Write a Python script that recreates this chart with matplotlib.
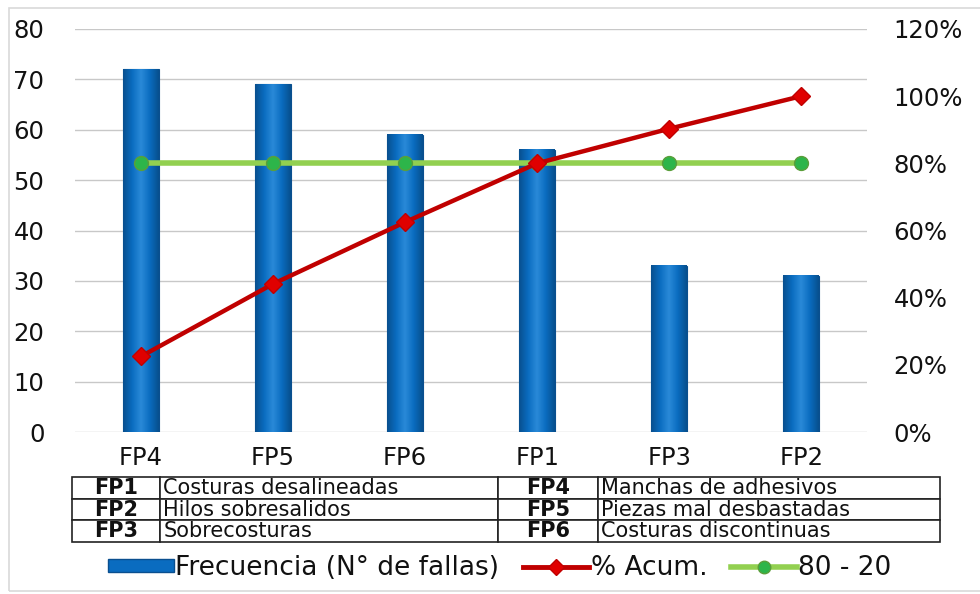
import numpy as np
import matplotlib.pyplot as plt
from matplotlib.patches import Rectangle
from matplotlib.lines import Line2D
from matplotlib.colors import LinearSegmentedColormap

# wider font, closer to the stretched text of the original
plt.rcParams['font.family'] = ['DejaVu Sans']

# ==========================================
# DATA
# ==========================================
categorias = ["FP4", "FP5", "FP6", "FP1", "FP3", "FP2"]
frecuencia = [72, 69, 59, 56, 33, 31]
pct_acum = [22.5, 44.1, 62.5, 80.0, 90.3, 100.0]
linea_80 = [80, 80, 80, 80, 80, 80]

tabla_codigos = [["FP1", "Costuras desalineadas", "FP4", "Manchas de adhesivos"],
                 ["FP2", "Hilos sobresalidos", "FP5", "Piezas mal desbastadas"],
                 ["FP3", "Sobrecosturas", "FP6", "Costuras discontinuas"]]

# ==========================================
# FIGURE
# ==========================================
fig = plt.figure(figsize=(9.8, 5.94), dpi=100)
fig.patches.append(Rectangle((0.009, 0.005), 0.995, 0.982, transform=fig.transFigure,
                             fill=False, edgecolor="#d9d9d9", lw=1.2))

ax = fig.add_axes([0.0765, 0.2727, 0.8085, 0.6785])
x = np.arange(len(categorias))

bars = ax.bar(x, frecuencia, width=0.27, color="#0A6CC0", edgecolor="#0A4F8F",
              linewidth=0.8, zorder=2)

# cylinder-like shading on the bars
cmap_bar = LinearSegmentedColormap.from_list(
    "barra", ["#08508F", "#0A6CC0", "#2A8AD8", "#0A6CC0", "#07508E"])
grad = np.linspace(0, 1, 64).reshape(1, -1)
for b in bars:
    x0 = b.get_x()
    ax.imshow(grad, extent=[x0, x0 + b.get_width(), 0, b.get_height()],
              aspect="auto", cmap=cmap_bar, zorder=2.1, clip_path=b, clip_on=True)

ax.set_xlim(-0.5, 5.5)
ax.set_ylim(0, 80)
ax.set_yticks(range(0, 81, 10))
ax.yaxis.grid(True, color="#c8c8c8", lw=1.0, zorder=0)
ax.set_axisbelow(True)
ax.set_xticks(x)
ax.set_xticklabels(categorias)
ax.tick_params(axis="x", length=0, pad=10, labelsize=17.5, labelcolor="#111111")
ax.tick_params(axis="y", length=0, pad=22, labelsize=17.5, labelcolor="#111111")
for s in ax.spines.values():
    s.set_visible(False)

ax2 = ax.twinx()
ax2.set_ylim(0, 120)
ax2.set_yticks(range(0, 121, 20))
ax2.set_yticklabels([f"{v}%" for v in range(0, 121, 20)])
ax2.tick_params(axis="y", length=0, pad=19, labelsize=17.5, labelcolor="#111111")
for s in ax2.spines.values():
    s.set_visible(False)

ax2.plot(x, linea_80, color="#92D050", lw=4, marker="o", markersize=10,
         markerfacecolor="#2DB54A", markeredgecolor="#5A9E3A", zorder=3)
ax2.plot(x, pct_acum, color="#C00000", lw=3.2, marker="D", markersize=9,
         markerfacecolor="#E00000", markeredgecolor="#C00000", zorder=4)

# ==========================================
# TABLE
# ==========================================
tab = fig.add_axes([0.0735, 0.0875, 0.8855, 0.1095])
tab.axis("off")
t = tab.table(cellText=tabla_codigos, cellLoc="left", bbox=[0, 0, 1, 1],
              colWidths=[88, 338, 100, 342])
t.auto_set_font_size(False)
for (r, c), cell in t.get_celld().items():
    cell.set_linewidth(1.2)
    cell.set_edgecolor("#222222")
    cell.get_text().set_fontsize(15)
    cell.get_text().set_color("#111111")
    if c in (0, 2):
        cell.get_text().set_fontweight("bold")
        cell.get_text().set_horizontalalignment("center")
        cell._loc = "center"
    else:
        cell.PAD = 0.01

# ==========================================
# LEGEND
# ==========================================
handles = [Rectangle((0, 0), 1, 1, facecolor="#0A6CC0", edgecolor="#0A4F8F"),
           Line2D([], [], color="#C00000", lw=3.5, marker="D", markersize=8,
                  markerfacecolor="#E00000", markeredgecolor="#C00000"),
           Line2D([], [], color="#92D050", lw=4, marker="o", markersize=9,
                  markerfacecolor="#2DB54A", markeredgecolor="#5A9E3A")]
labels = ["Frecuencia (N° de fallas)", "% Acum.", "80 - 20"]
fig.legend(handles, labels, loc="center", bbox_to_anchor=(0.51, 0.044), ncol=3,
           frameon=False, fontsize=19, handlelength=2.5, handletextpad=0.05,
           columnspacing=0.9, handleheight=0.4, labelcolor="#111111")

fig.savefig("out.png", dpi=100)
